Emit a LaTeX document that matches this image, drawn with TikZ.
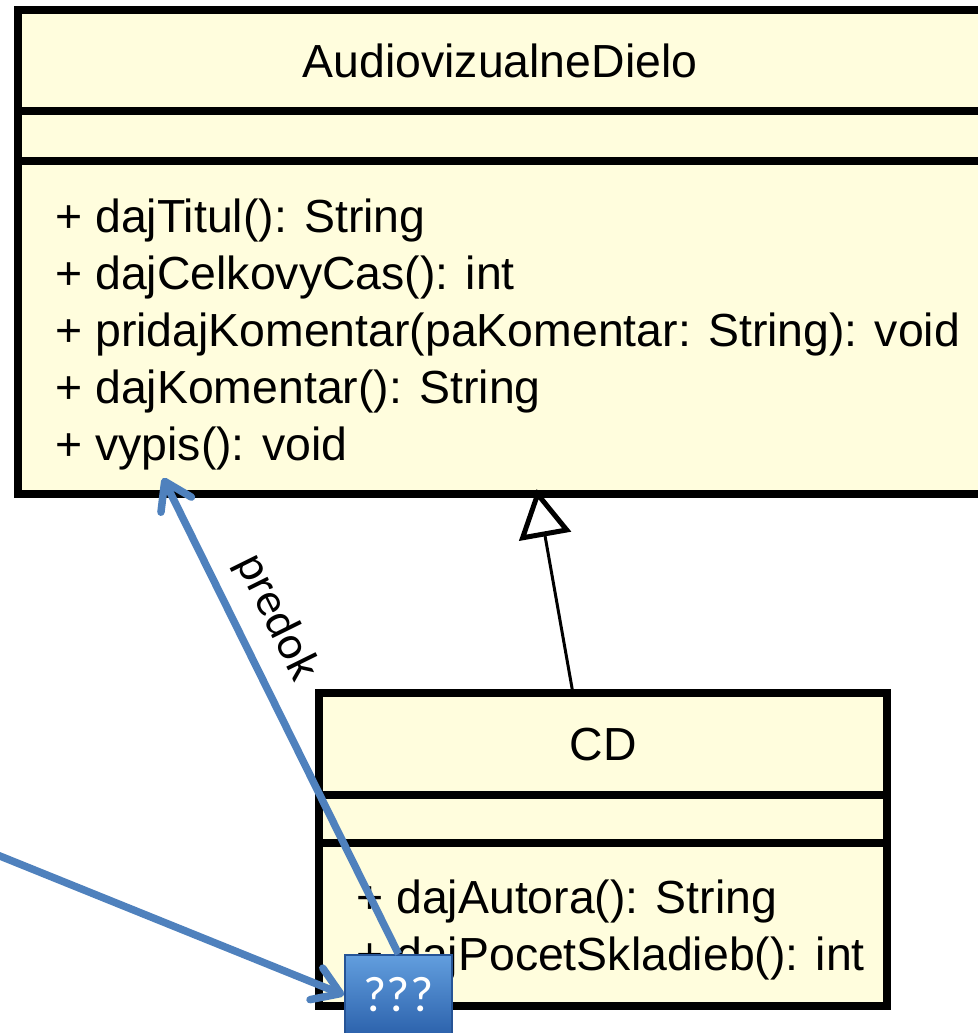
\documentclass[tikz,border=0pt]{standalone}
\usepackage{fontspec}
\setmainfont{Liberation Sans}
\newfontfamily\calibri{Carlito}
\usepackage{tikz}
\usetikzlibrary{positioning, arrows.meta, calc}

\definecolor{umlfill}{RGB}{255,253,221}
\definecolor{pptblue}{RGB}{79,129,189}
\definecolor{qqqtop}{RGB}{98,158,222}
\definecolor{qqqbottom}{RGB}{44,98,172}
\definecolor{qqqborder}{RGB}{38,84,150}

\def\raster{0.5pt}

\tikzset{
    classbox/.style={draw=black, fill=umlfill, line width=8*\raster, inner sep=0, outer sep=0},
    divider/.style={black, line width=8*\raster},
    classname/.style={font=\fontsize{23.2}{28}\selectfont, inner sep=0, anchor=base},
    method/.style={font=\fontsize{23.2}{28}\selectfont, inner sep=0, anchor=base west},
    generalization/.style={black, line width=3*\raster, shorten >=-5*\raster,
        -{Triangle[open, length=24pt, width=26pt, line width=2.5pt]}},
    pointer/.style={draw=pptblue, line width=7.5*\raster,
        -{Straight Barb[length=13pt, width=17pt, round]}},
    qqqbox/.style={rectangle, draw=qqqborder, line width=1pt, top color=qqqtop, bottom color=qqqbottom,
        minimum width=107*\raster, minimum height=80*\raster, text=white,
        font=\calibri\fontsize{25}{30}\selectfont},
    predoklabel/.style={font=\calibri\fontsize{23.5}{28}\selectfont, inner sep=1pt}
}

\begin{document}
\begin{tikzpicture}[x=\raster, y=-\raster]
    \useasboundingbox (0,0) rectangle (978,1033);

    % parent class
    \node[classbox, minimum width=964*\raster, minimum height=484*\raster] (dielo) at (500,252) {};
    \foreach \d in {101,151}
    {
        \draw[divider] ($(dielo.north west)+(0,\d)$) -- ($(dielo.north east)+(0,\d)$);
    }
    \node[classname] (dieloName) at (500,77) {AudiovizualneDielo};
    \foreach \m [count=\i from 0] in {
        {+ dajTitul(): String},
        {+ dajCelkovyCas(): int},
        {+ pridajKomentar(paKomentar: String): void},
        {+ dajKomentar(): String},
        {+ vypis(): void}}
    {
        \node[method] (dieloM\i) at (55,232+57*\i) {\m};
    }

    % child class
    \node[classbox, minimum width=568*\raster, minimum height=313*\raster] (cd) at (603,849.5) {};
    \foreach \d in {102,150}
    {
        \draw[divider] ($(cd.north west)+(0,\d)$) -- ($(cd.north east)+(0,\d)$);
    }
    \node[classname] (cdName) at (603,760) {CD};
    \node[method] (cdM0) at (356,913) {+ dajAutora(): String};
    \node[method] (cdM1) at (356,970) {+ dajPocetSkladieb(): int};

    % inheritance
    \draw[generalization] ($(cd.north west)!0.447!(cd.north east)$) -- ($(dielo.south west)!0.539!(dielo.south east)$);

    % the question box and its pointers
    \node[qqqbox] (qqq) at (398.5,995) {???};
    \coordinate (vypisTip) at (163,478);
    \coordinate (zvonku) at (-10,852);

    \draw[pointer] (qqq.north) -- node[predoklabel, sloped, above=7pt, pos=0.67] {predok} (vypisTip);
    \draw[pointer] (zvonku) -- (qqq.west);
\end{tikzpicture}
\end{document}
